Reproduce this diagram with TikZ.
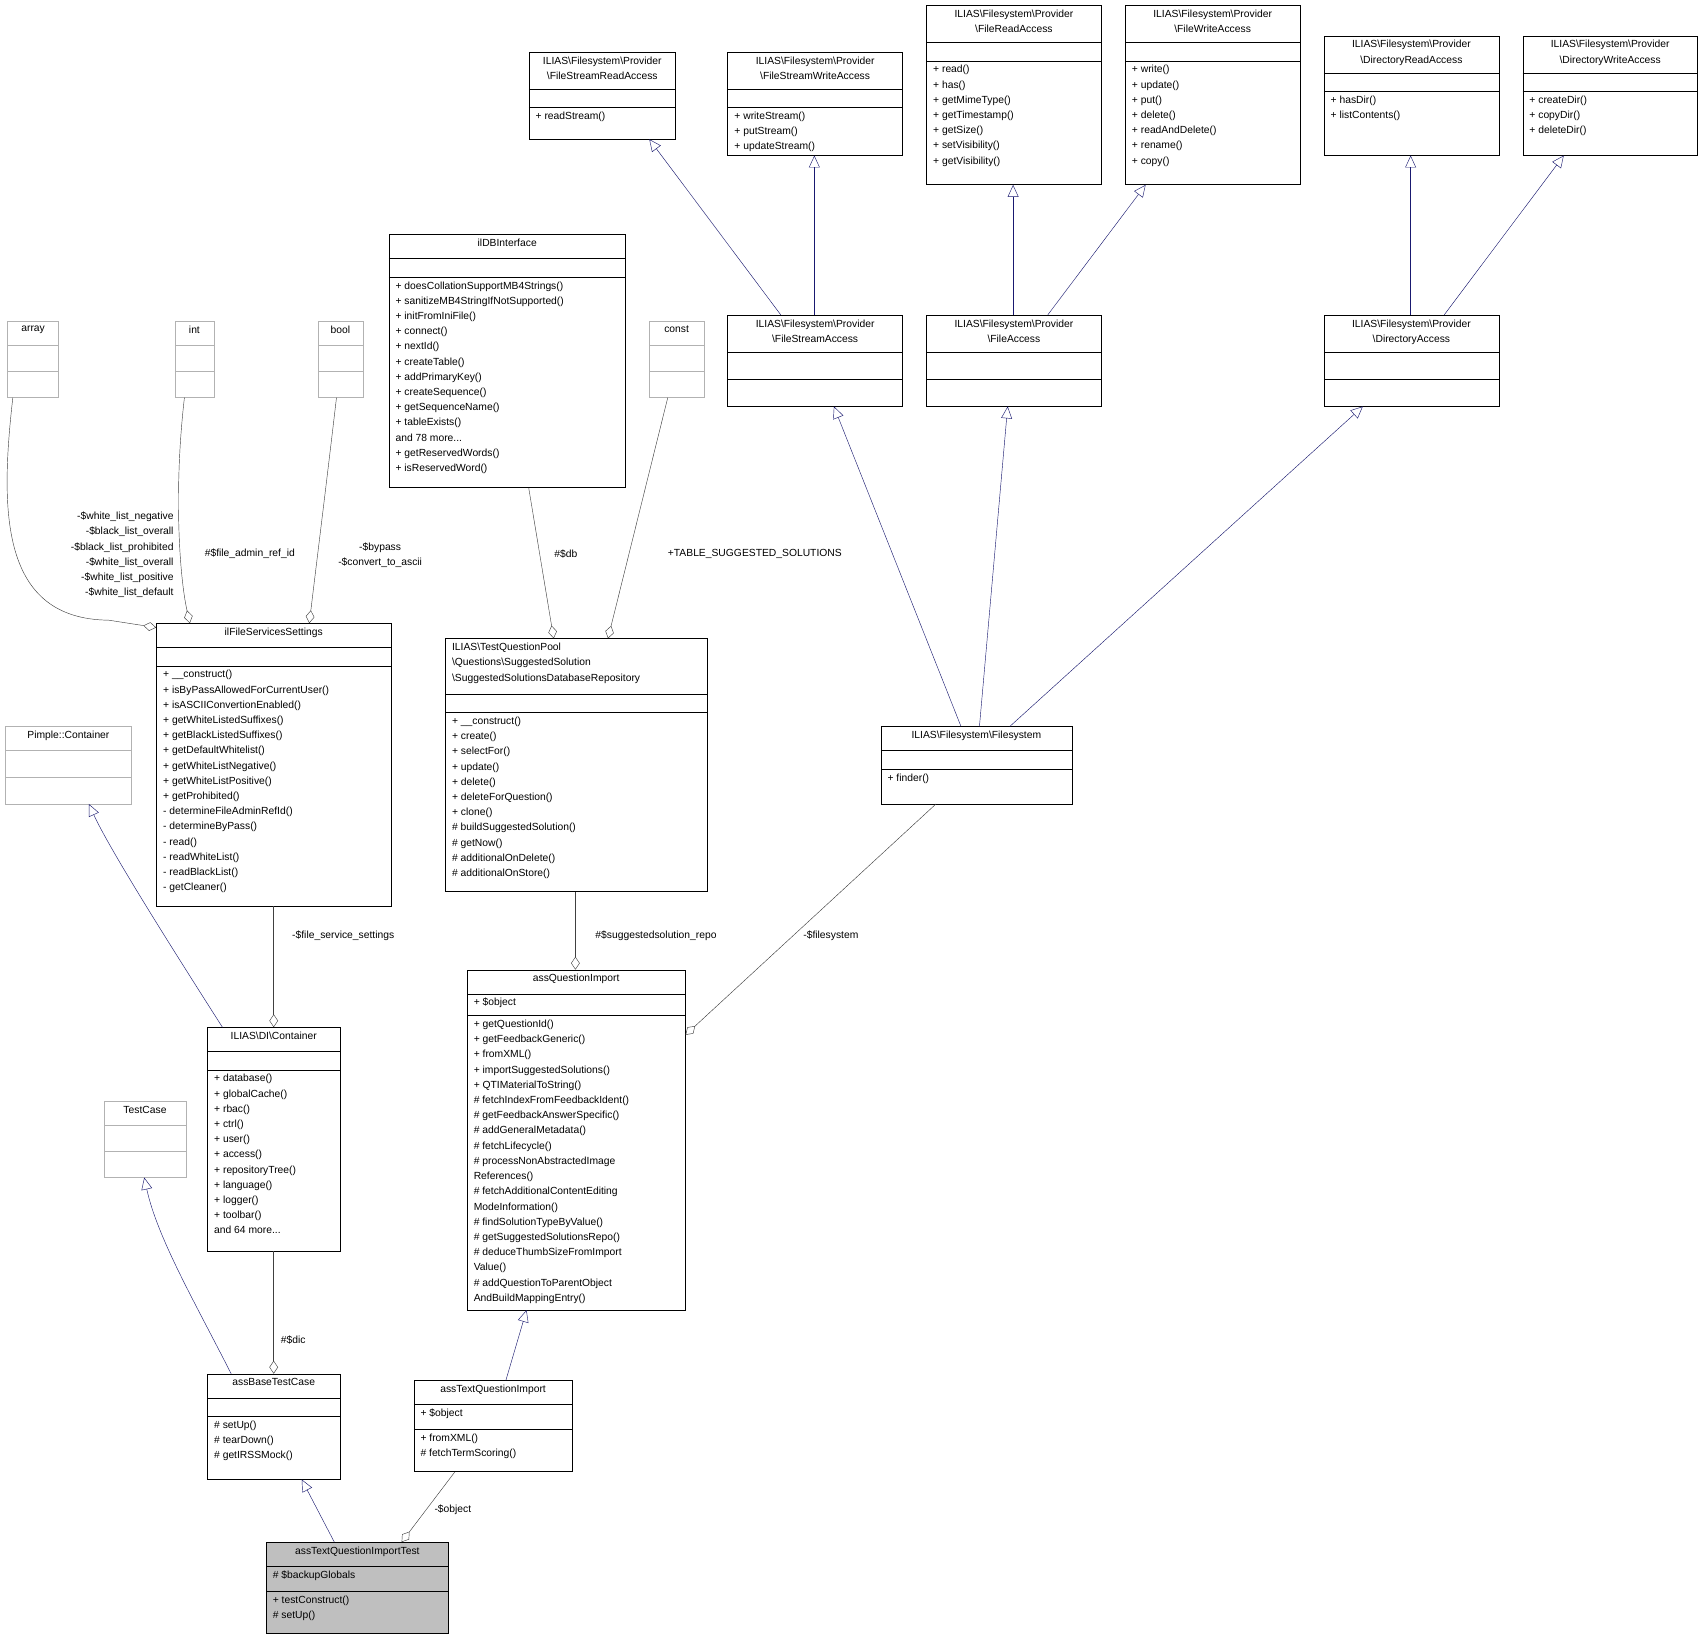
\documentclass[tikz,border=0pt]{standalone}
\usepackage{fontspec}
\setmainfont{Liberation Sans}
\usetikzlibrary{arrows.meta,calc}
\newcommand\bs{\textbackslash}
\newcommand\ubox[9]{%
\node[draw=#9,rectangle,minimum width=#4pt-#2pt,minimum height=#5pt-#3pt,inner sep=0] (#1) at ({(#2+#4)/2},{(#3+#5)/2}) {};
\draw[#9] (#2,#6) -- (#4,#6); \draw[#9] (#2,#7) -- (#4,#7);
\node[anchor=north,align=center,txt] at ({(#2+#4)/2},{#3+4}) {#8};}
\newcommand\meth[3]{\node[anchor=north west,align=left,txt] at ({#1+6},{#2+4}) {#3};}
\begin{document}
\begin{tikzpicture}[x=1pt,y=-1pt,
 txt/.style={inner sep=0,font=\fontsize{9.5}{14}\selectfont},
 inh/.style={draw={rgb,255:red,25;green,25;blue,112},-{Triangle[open,length=11,width=10]}},
 agg/.style={draw={rgb,255:red,64;green,64;blue,64},-{Diamond[open,length=12,width=8]}},
 lbl/.style={txt,align=center}]
\fill[white] (0,0) rectangle (1568,1510);
\useasboundingbox (0,0) rectangle (1568,1510);
% top interfaces
\ubox{fsra}{487}{48}{622}{128}{82}{99}{ILIAS\bs Filesystem\bs Provider\\\bs FileStreamReadAccess}{black}
\meth{487}{99}{+ readStream()}
\ubox{fswa}{670}{48}{831}{143}{82}{99}{ILIAS\bs Filesystem\bs Provider\\\bs FileStreamWriteAccess}{black}
\meth{670}{99}{+ writeStream()\\+ putStream()\\+ updateStream()}
\ubox{fra}{853}{5}{1014}{170}{39}{56}{ILIAS\bs Filesystem\bs Provider\\\bs FileReadAccess}{black}
\meth{853}{56}{+ read()\\+ has()\\+ getMimeType()\\+ getTimestamp()\\+ getSize()\\+ setVisibility()\\+ getVisibility()}
\ubox{fwa}{1036}{5}{1197}{170}{39}{56}{ILIAS\bs Filesystem\bs Provider\\\bs FileWriteAccess}{black}
\meth{1036}{56}{+ write()\\+ update()\\+ put()\\+ delete()\\+ readAndDelete()\\+ rename()\\+ copy()}
\ubox{dra}{1219}{33}{1380}{143}{67}{84}{ILIAS\bs Filesystem\bs Provider\\\bs DirectoryReadAccess}{black}
\meth{1219}{84}{+ hasDir()\\+ listContents()}
\ubox{dwa}{1402}{33}{1563}{143}{67}{84}{ILIAS\bs Filesystem\bs Provider\\\bs DirectoryWriteAccess}{black}
\meth{1402}{84}{+ createDir()\\+ copyDir()\\+ deleteDir()}
% second row
\ubox{db}{358}{216}{576}{449}{238}{255}{ilDBInterface}{black}
\meth{358}{255}{+ doesCollationSupportMB4Strings()\\+ sanitizeMB4StringIfNotSupported()\\+ initFromIniFile()\\+ connect()\\+ nextId()\\+ createTable()\\+ addPrimaryKey()\\+ createSequence()\\+ getSequenceName()\\+ tableExists()\\and 78 more...\\+ getReservedWords()\\+ isReservedWord()}
\ubox{arr}{7}{296}{54}{366}{318}{342}{array}{gray!60}
\ubox{int}{161}{296}{197}{366}{318}{342}{int}{gray!60}
\ubox{bool}{293}{296}{334}{366}{318}{342}{bool}{gray!60}
\ubox{const}{598}{296}{648}{366}{318}{342}{const}{gray!60}
\ubox{fsa}{670}{290}{831}{374}{324}{349}{ILIAS\bs Filesystem\bs Provider\\\bs FileStreamAccess}{black}
\ubox{fa}{853}{290}{1014}{374}{324}{349}{ILIAS\bs Filesystem\bs Provider\\\bs FileAccess}{black}
\ubox{da}{1219}{290}{1380}{374}{324}{349}{ILIAS\bs Filesystem\bs Provider\\\bs DirectoryAccess}{black}
% middle
\ubox{fss}{144}{574}{360}{834}{596}{613}{ilFileServicesSettings}{black}
\meth{144}{613}{+ \_\_construct()\\+ isByPassAllowedForCurrentUser()\\+ isASCIIConvertionEnabled()\\+ getWhiteListedSuffixes()\\+ getBlackListedSuffixes()\\+ getDefaultWhitelist()\\+ getWhiteListNegative()\\+ getWhiteListPositive()\\+ getProhibited()\\- determineFileAdminRefId()\\- determineByPass()\\- read()\\- readWhiteList()\\- readBlackList()\\- getCleaner()}
\ubox{ssdr}{410}{588}{651}{821}{639}{656}{}{black}
\node[anchor=north west,align=left,txt] at (416,592) {ILIAS\bs TestQuestionPool\\\bs Questions\bs SuggestedSolution\\\bs SuggestedSolutionsDatabaseRepository};
\meth{410}{656}{+ \_\_construct()\\+ create()\\+ selectFor()\\+ update()\\+ delete()\\+ deleteForQuestion()\\+ clone()\\\# buildSuggestedSolution()\\\# getNow()\\\# additionalOnDelete()\\\# additionalOnStore()}
\ubox{fsys}{811}{669}{987}{740}{691}{708}{ILIAS\bs Filesystem\bs Filesystem}{black}
\meth{811}{708}{+ finder()}
\ubox{pim}{5}{669}{121}{740}{691}{716}{Pimple::Container}{gray!60}
\ubox{dic}{191}{946}{313}{1152}{968}{985}{ILIAS\bs DI\bs Container}{black}
\meth{191}{985}{+ database()\\+ globalCache()\\+ rbac()\\+ ctrl()\\+ user()\\+ access()\\+ repositoryTree()\\+ language()\\+ logger()\\+ toolbar()\\and 64 more...}
\ubox{aqi}{430}{893}{631}{1206}{915}{935}{assQuestionImport}{black}
\meth{430}{915}{+ \$object}
\meth{430}{935}{+ getQuestionId()\\+ getFeedbackGeneric()\\+ fromXML()\\+ importSuggestedSolutions()\\+ QTIMaterialToString()\\\# fetchIndexFromFeedbackIdent()\\\# getFeedbackAnswerSpecific()\\\# addGeneralMetadata()\\\# fetchLifecycle()\\\# processNonAbstractedImage\\References()\\\# fetchAdditionalContentEditing\\ModeInformation()\\\# findSolutionTypeByValue()\\\# getSuggestedSolutionsRepo()\\\# deduceThumbSizeFromImport\\Value()\\\# addQuestionToParentObject\\AndBuildMappingEntry()}
\ubox{tc}{96}{1014}{171}{1084}{1036}{1060}{TestCase}{gray!60}
\ubox{abt}{191}{1265}{313}{1362}{1287}{1304}{assBaseTestCase}{black}
\meth{191}{1304}{\# setUp()\\\# tearDown()\\\# getIRSSMock()}
\ubox{atqi}{381}{1271}{527}{1355}{1293}{1316}{assTextQuestionImport}{black}
\meth{381}{1293}{+ \$object}
\meth{381}{1316}{+ fromXML()\\\# fetchTermScoring()}
\fill[gray!50] (245,1420) rectangle (413,1504);
\ubox{test}{245}{1420}{413}{1504}{1442}{1465}{assTextQuestionImportTest}{black}
\meth{245}{1442}{\# \$backupGlobals}
\meth{245}{1465}{+ testConstruct()\\\# setUp()}
% inheritance
\draw[inh] ($(fsa.north west)+(49,0)$) -- ($(fsra.south west)+(111,0)$);
\draw[inh] ($(fsa.north west)+(80,0)$) -- ($(fswa.south west)+(80,0)$);
\draw[inh] ($(fa.north west)+(80,0)$) -- ($(fra.south west)+(80,0)$);
\draw[inh] ($(fa.north west)+(112,0)$) -- ($(fwa.south west)+(19,0)$);
\draw[inh] ($(da.north west)+(80,0)$) -- ($(dra.south west)+(80,0)$);
\draw[inh] ($(da.north west)+(111,0)$) -- ($(dwa.south west)+(38,0)$);
\draw[inh] ($(fsys.north west)+(74,0)$) -- ($(fsa.south west)+(98,0)$);
\draw[inh] ($(fsys.north west)+(91,0)$) -- ($(fa.south west)+(75,0)$);
\draw[inh] ($(fsys.north west)+(119,0)$) -- ($(da.south west)+(36,0)$);
\draw[inh] ($(dic.north west)+(14,0)$) .. controls (150,860) and (100,780) .. ($(pim.south west)+(77,0)$);
\draw[inh] ($(abt.north west)+(22,0)$) .. controls (180,1200) and (145,1140) .. ($(tc.south west)+(37,0)$);
\draw[inh] ($(test.north west)+(63,0)$) -- ($(abt.south west)+(87,0)$);
\draw[inh] ($(atqi.north west)+(85,0)$) -- ($(aqi.south west)+(55,0)$);
% aggregation
\draw[agg] ($(arr.south west)+(5,0)$) .. controls (0,470) and (0,570) .. (100,571) -- ($(fss.north west)+(0,4)$);
\draw[agg] ($(int.south west)+(9,0)$) .. controls (160,450) and (165,530) .. ($(fss.north west)+(31,0)$);
\draw[agg] ($(bool.south west)+(17,0)$) .. controls (300,450) and (290,530) .. ($(fss.north west)+(141,0)$);
\draw[agg] ($(db.south west)+(129,0)$) -- ($(ssdr.north west)+(100,0)$);
\draw[agg] ($(const.south west)+(17,0)$) -- ($(ssdr.north west)+(150,0)$);
\draw[agg] (fss.south -| dic) -- (dic.north);
\draw[agg] ($(ssdr.south west)+(120,0)$) -- ($(aqi.north west)+(100,0)$);
\draw[agg] ($(fsys.south west)+(51,0)$) -- ($(aqi.north east)+(0,60)$);
\draw[agg] (dic.south) -- (abt.north);
\draw[agg] ($(atqi.south west)+(38,0)$) -- ($(test.north west)+(125,0)$);
% labels
\node[txt,align=right,anchor=east] at (160,511) {-\$white\_list\_negative\\-\$black\_list\_overall\\-\$black\_list\_prohibited\\-\$white\_list\_overall\\-\$white\_list\_positive\\-\$white\_list\_default};
\node[lbl] at (230,510) {\#\$file\_admin\_ref\_id};
\node[lbl] at (350,511) {-\$bypass\\-\$convert\_to\_ascii};
\node[lbl] at (521,510) {\#\$db};
\node[lbl] at (695,510) {+TABLE\_SUGGESTED\_SOLUTIONS};
\node[lbl] at (316,862) {-\$file\_service\_settings};
\node[lbl] at (604,862) {\#\$suggestedsolution\_repo};
\node[lbl] at (765,862) {-\$filesystem};
\node[lbl] at (270,1234) {\#\$dic};
\node[lbl] at (417,1390) {-\$object};
\end{tikzpicture}
\end{document}
